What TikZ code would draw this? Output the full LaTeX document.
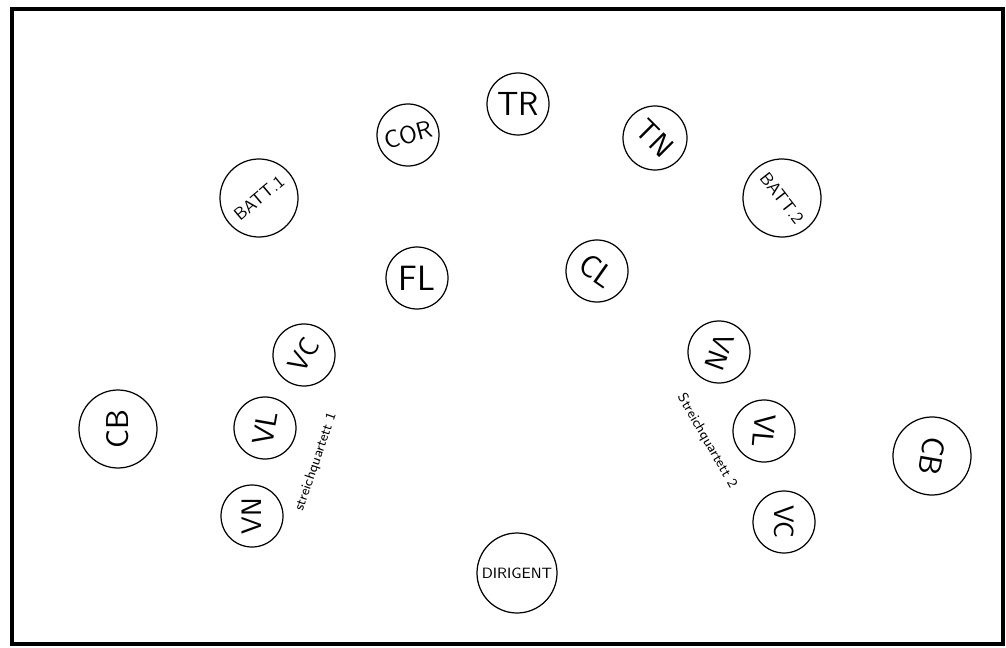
\documentclass[tikz,border=0pt]{standalone}
\usepackage{tikz}
\tikzset{
  seat/.style={circle,draw,line width=0.7pt,inner sep=0pt,font=\sffamily},
  quartet/.style={inner sep=1pt,font=\sffamily\fontsize{8}{9}\selectfont}
}

\begin{document}
\begin{tikzpicture}[x=0.02cm,y=-0.02cm]
\useasboundingbox (0,0) rectangle (1006,648);
\draw[line width=2.6pt] (12,9) rectangle (1003,644);
% musicians: name/x/y/diameter/angle/font size/label
\foreach \n/\x/\y/\s/\a/\f/\t in {
  tr/518/104/62/0/19/TR, cor/408/135/62/15/14/COR, battA/259/198/78/40/10/BATT.1,
  tn/655/138/64/-45/17/TN, battB/782/198/78/-52/10/BATT.2,
  fl/417/278/62/0/20/FL, cl/597/271/62/-35/18/CL,
  vcA/304/355/62/60/16/VC, vlA/265/428/62/80/17/VL, vnA/252/516/62/90/16/VN, cbA/118/429/78/90/18/CB,
  vnB/719/352/62/-110/16/VN, vlB/764/431/62/-95/17/VL, vcB/784/522/62/-90/16/VC, cbB/932/456/78/-100/18/CB,
  dir/517/573/80/0/8.5/DIRIGENT} {
  \node[seat,minimum size=\s*0.02cm,rotate=\a,font=\sffamily\fontsize{\f}{\f}\selectfont] (\n) at (\x,\y) {\t};
}
\node[quartet,rotate=71] (sqA) at (316,462) {streichquartett 1};
\node[quartet,rotate=-60] (sqB) at (707,441) {Streichquartett 2};
\end{tikzpicture}
\end{document}
